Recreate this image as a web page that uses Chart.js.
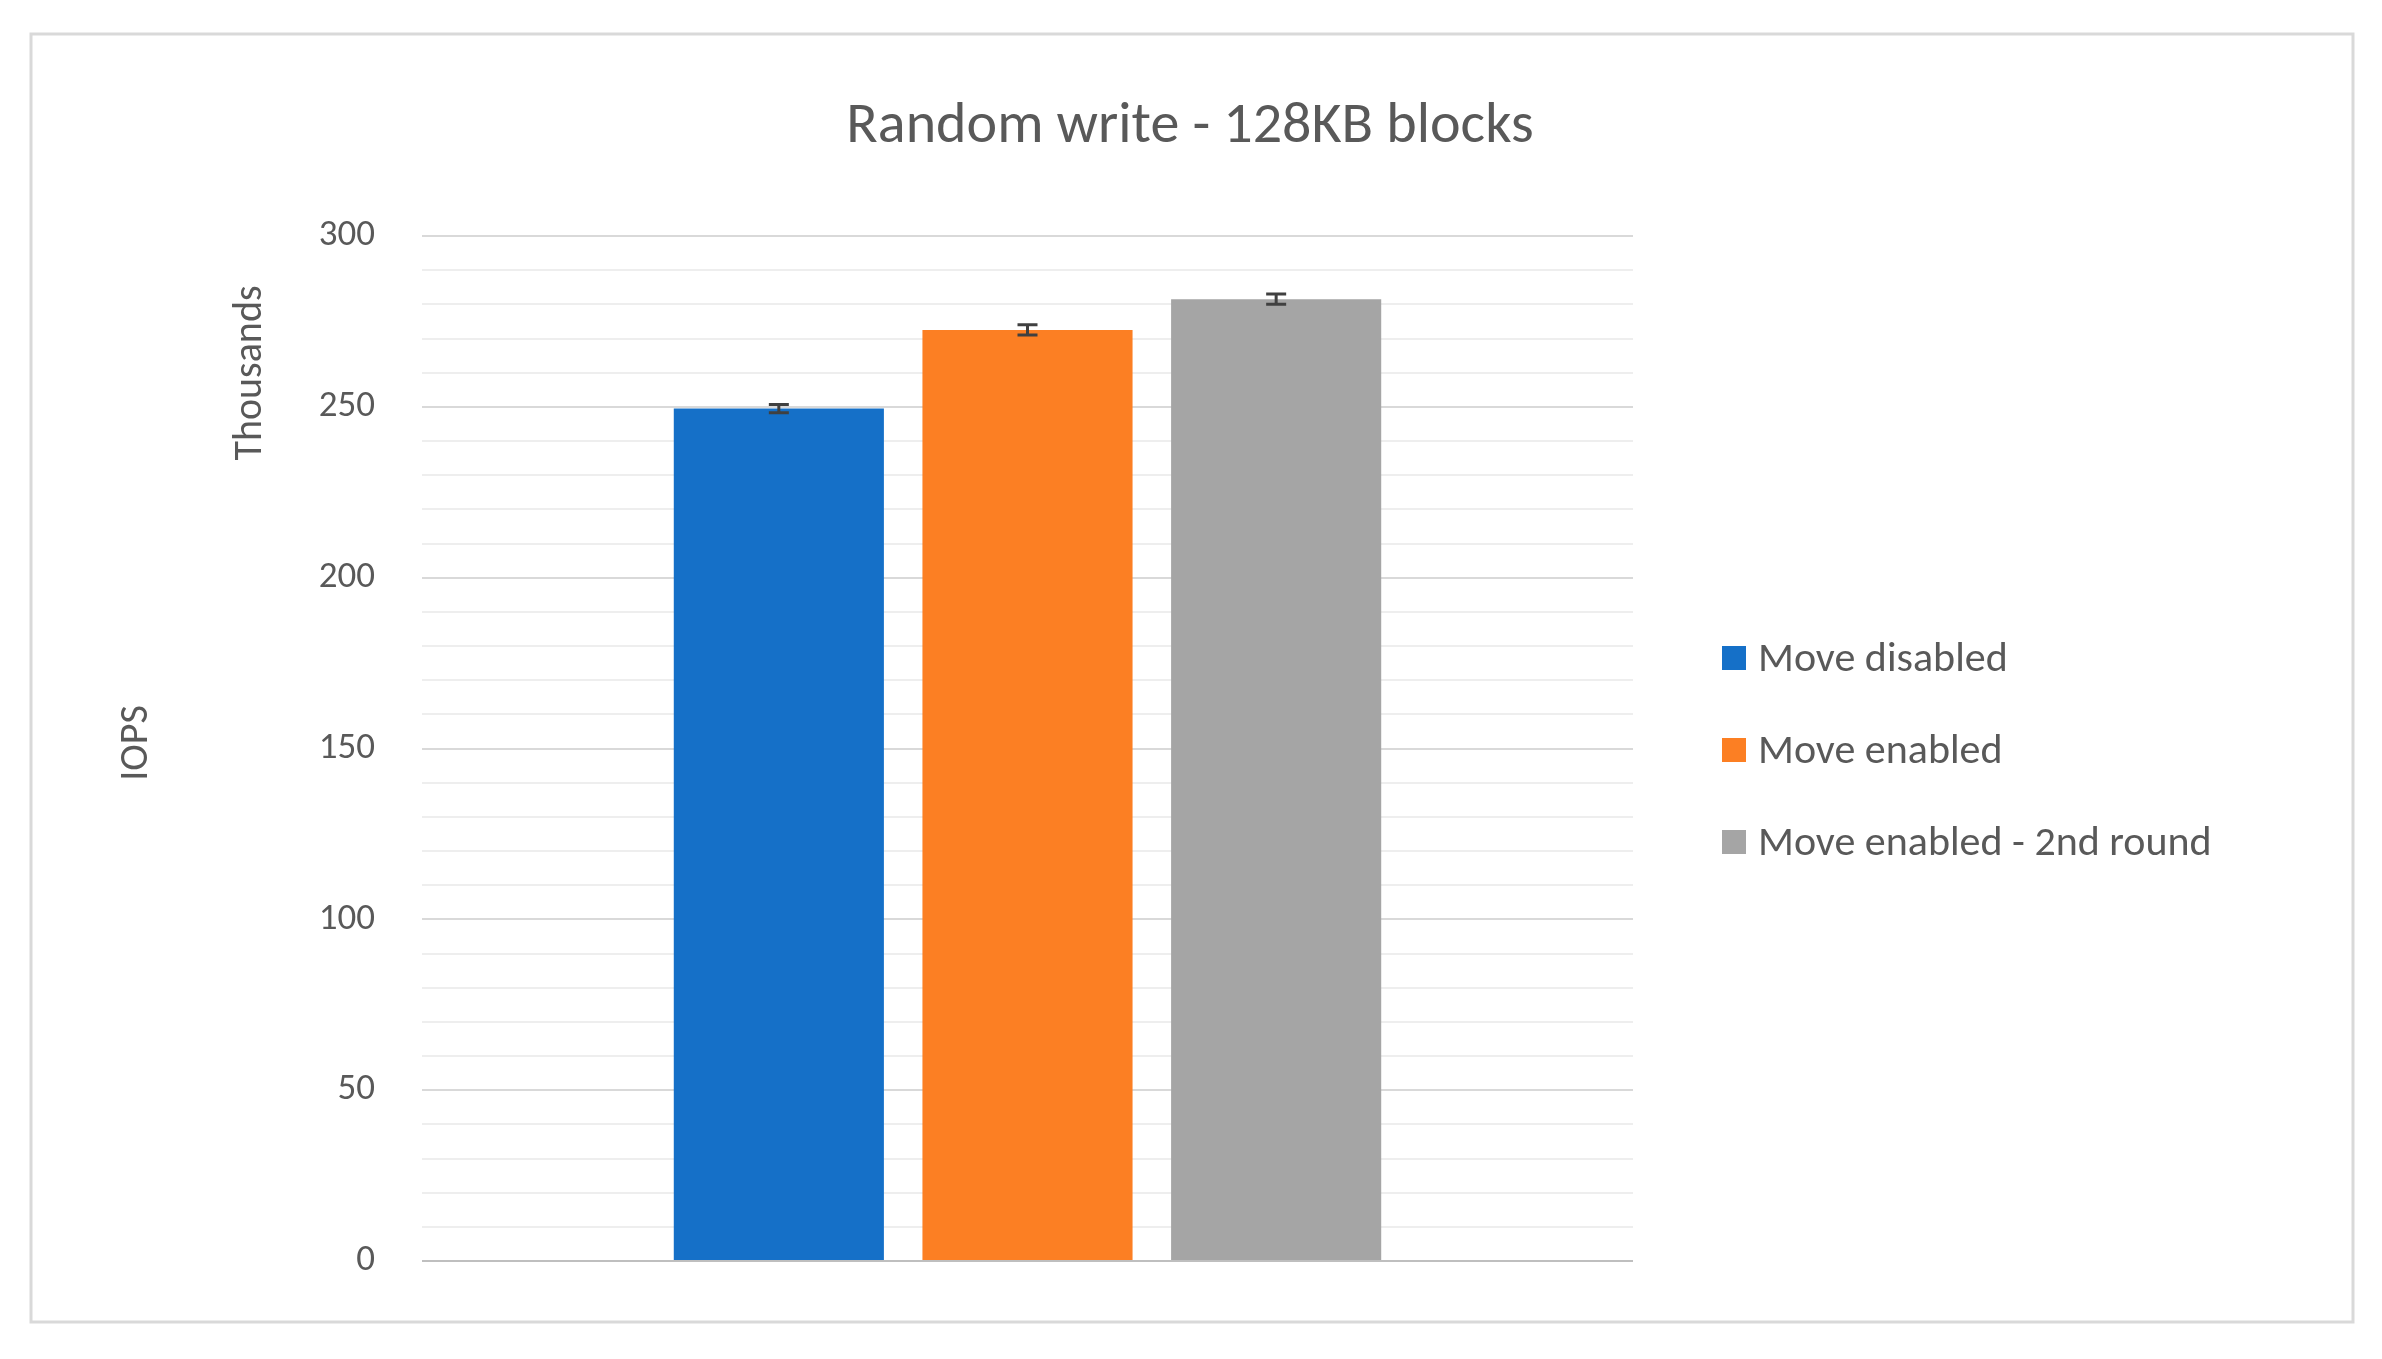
<!DOCTYPE html>
<html><head><meta charset="utf-8">
<script src="https://cdn.jsdelivr.net/npm/chart.js@4/dist/chart.umd.min.js"></script>
<style>html,body{margin:0;padding:0;background:#fff}#w{width:2382px;height:1359px}</style>
</head><body><div id="w"><canvas id="c"></canvas></div>
<script>
const categories = [''];
const seriesNames = ['Move disabled', 'Move enabled', 'Move enabled - 2nd round'];
const seriesValues = [249.5, 272.5, 281.5];
const seriesErrors = [1.2, 1.5, 1.5];
const seriesColors = ['#1570C8', '#FC7F23', '#A5A5A5'];
const title = 'Random write - 128KB blocks';
const yTitle = 'IOPS';
const yUnit = 'Thousands';
const FONT = 'Calibri, "Open Sans", "Noto Sans", sans-serif';

const extras = {
  id: 'extras',
  beforeDraw(chart) {
    const ctx = chart.ctx;
    ctx.save();
    ctx.fillStyle = '#fff'; ctx.fillRect(0, 0, chart.width, chart.height);
    ctx.strokeStyle = '#D9D9D9'; ctx.lineWidth = 3;
    ctx.strokeRect(31, 34, 2322, 1288);
    ctx.restore();
  },
  afterDatasetsDraw(chart) {
    const ctx = chart.ctx, y = chart.scales.y;
    ctx.save();
    ctx.strokeStyle = '#404040'; ctx.lineWidth = 3;
    chart.data.datasets.forEach((ds, i) => {
      const bar = chart.getDatasetMeta(i).data[0];
      const v = ds.data[0], e = seriesErrors[i];
      const y1 = y.getPixelForValue(v - e), y2 = y.getPixelForValue(v + e), x = bar.x;
      ctx.beginPath();
      ctx.moveTo(x, y1); ctx.lineTo(x, y2);
      ctx.moveTo(x - 10, y1); ctx.lineTo(x + 10, y1);
      ctx.moveTo(x - 10, y2); ctx.lineTo(x + 10, y2);
      ctx.stroke();
    });
    // title
    ctx.fillStyle = '#595959';
    ctx.font = '58px ' + FONT; ctx.textAlign = 'center'; ctx.textBaseline = 'middle';
    ctx.fillText(title, 1190, 127);
    // axis titles
    ctx.font = '40px ' + FONT;
    ctx.save(); ctx.translate(137, 743); ctx.rotate(-Math.PI / 2); ctx.fillText(yTitle, 0, 0); ctx.restore();
    ctx.save(); ctx.translate(251, 373); ctx.rotate(-Math.PI / 2); ctx.fillText(yUnit, 0, 0); ctx.restore();
    // legend
    ctx.font = '42px ' + FONT; ctx.textAlign = 'left';
    const ly = [658, 750, 842];
    chart.data.datasets.forEach((ds, i) => {
      ctx.fillStyle = ds.backgroundColor;
      ctx.fillRect(1722, ly[i] - 12, 24, 24);
      ctx.fillStyle = '#595959';
      ctx.fillText(ds.label, 1758, ly[i] + 2);
    });
    ctx.restore();
  }
};

new Chart(document.getElementById('c'), {
  type: 'bar',
  data: {
    labels: categories,
    datasets: seriesNames.map((n, i) => ({
      label: n, data: [seriesValues[i]], backgroundColor: seriesColors[i],
      barPercentage: 0.845, categoryPercentage: 0.616
    }))
  },
  options: {
    responsive: true, maintainAspectRatio: false, animation: false,
    devicePixelRatio: 1,
    layout: { padding: { left: 0, top: 236, right: 749, bottom: 98 } },
    plugins: { legend: { display: false }, tooltip: { enabled: false } },
    scales: {
      x: { display: false },
      y: {
        min: 0, max: 300,
        afterFit(s) { s.width = 422; },
        border: { display: false },
        grid: {
          drawTicks: false, lineWidth: 2,
          color: c => c.tick.value === 0 ? '#BFBFBF' : (c.tick.value % 50 === 0 ? '#D9D9D9' : '#EEEEEE')
        },
        ticks: {
          stepSize: 10, padding: 47, autoSkip: false, color: '#595959',
          font: { size: 37, family: FONT },
          callback: v => v % 50 === 0 ? v : ''
        }
      }
    }
  },
  plugins: [extras]
});
</script></body></html>
